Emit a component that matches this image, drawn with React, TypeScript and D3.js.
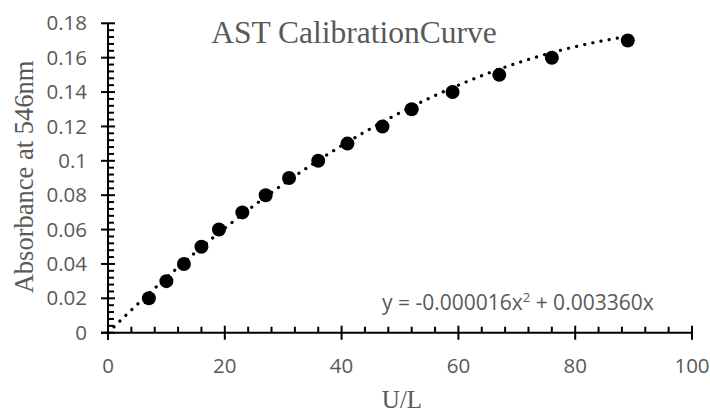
import { useEffect, useRef } from "react";
import * as d3 from "d3";

const ulValues = [7, 10, 13, 16, 19, 23, 27, 31, 36, 41, 47, 52, 59, 67, 76, 89];
const absorbance = [0.02, 0.03, 0.04, 0.05, 0.06, 0.07, 0.08, 0.09, 0.1, 0.11, 0.12, 0.13, 0.14, 0.15, 0.16, 0.17];
// y = a x^2 + b x, as printed on the chart
const trendA = -0.000016;
const trendB = 0.00336;
const yTicks = [0, 0.02, 0.04, 0.06, 0.08, 0.1, 0.12, 0.14, 0.16, 0.18];
const xTicks = [0, 20, 40, 60, 80, 100];

const WIDTH = 710;
const HEIGHT = 412;
const GREY = "#595959";
const SANS = "'Open Sans', 'Liberation Sans', sans-serif";
const SERIF = "'Liberation Serif', 'DejaVu Serif', serif";

export default function App() {
  const svgRef = useRef<SVGSVGElement>(null);

  useEffect(() => {
    const svgElement = svgRef.current;
    if (!svgElement) return;
    const svg = d3.select(svgElement);
    svg.selectAll("*").remove();

    const x = d3.scaleLinear().domain([0, 100]).range([108, 692]);
    const y = d3.scaleLinear().domain([0, 0.18]).range([332.7, 23.3]);
    const x0 = x(0);
    const y0 = y(0);

    const axes = svg.append("g").attr("stroke", "#000").attr("stroke-width", 2);

    // minor ticks
    d3.range(0, 0.1801, 0.004)
      .filter((v) => !yTicks.some((t) => Math.abs(t - v) < 1e-6))
      .forEach((v) => {
        axes.append("line").attr("x1", x0).attr("x2", x0 + 6).attr("y1", y(v)).attr("y2", y(v));
      });
    d3.range(0, 100.01, 4)
      .filter((v) => !xTicks.some((t) => Math.abs(t - v) < 1e-6))
      .forEach((v) => {
        axes.append("line").attr("x1", x(v)).attr("x2", x(v)).attr("y1", y0 - 6).attr("y2", y0);
      });

    // major ticks
    yTicks.forEach((v) => {
      axes.append("line").attr("x1", x0 - 7).attr("x2", x0 + 7).attr("y1", y(v)).attr("y2", y(v));
    });
    xTicks.forEach((v) => {
      axes.append("line").attr("x1", x(v)).attr("x2", x(v)).attr("y1", y0 - 7).attr("y2", y0 + 7);
    });

    // axis lines
    axes.append("line").attr("x1", x0).attr("x2", x0).attr("y1", y(0.18)).attr("y2", y0 + 7);
    axes.append("line").attr("x1", x0 - 7).attr("x2", x(100)).attr("y1", y0).attr("y2", y0);

    // tick labels
    svg
      .append("g")
      .selectAll("text")
      .data(yTicks)
      .join("text")
      .attr("x", 87)
      .attr("y", (d) => y(d))
      .attr("dy", "0.35em")
      .attr("text-anchor", "end")
      .attr("font-family", SANS)
      .attr("font-size", 20.5)
      .attr("fill", GREY)
      .text((d) => String(d));

    svg
      .append("g")
      .selectAll("text")
      .data(xTicks)
      .join("text")
      .attr("x", (d) => x(d))
      .attr("y", 373)
      .attr("text-anchor", "middle")
      .attr("font-family", SANS)
      .attr("font-size", 20.5)
      .attr("fill", GREY)
      .text((d) => String(d));

    // trendline
    const trendX = d3.range(0, ulValues[ulValues.length - 1] + 0.01, 0.5);
    const line = d3
      .line<number>()
      .x((d) => x(d))
      .y((d) => y(trendA * d * d + trendB * d));
    svg
      .append("path")
      .datum(trendX)
      .attr("d", line)
      .attr("fill", "none")
      .attr("stroke", "#000")
      .attr("stroke-width", 3.2)
      .attr("stroke-linecap", "round")
      .attr("stroke-dasharray", "0.1 8.2");

    // points
    svg
      .append("g")
      .selectAll("circle")
      .data(ulValues)
      .join("circle")
      .attr("cx", (d) => x(d))
      .attr("cy", (_, i) => y(absorbance[i]))
      .attr("r", 7)
      .attr("fill", "#000");

    // title
    svg
      .append("text")
      .attr("x", 354)
      .attr("y", 42.7)
      .attr("text-anchor", "middle")
      .attr("font-family", SERIF)
      .attr("font-size", 31.5)
      .attr("fill", GREY)
      .text("AST CalibrationCurve");

    // axis titles
    svg
      .append("text")
      .attr("x", 402)
      .attr("y", 408)
      .attr("text-anchor", "middle")
      .attr("font-family", SERIF)
      .attr("font-size", 25)
      .attr("fill", GREY)
      .text("U/L");

    svg
      .append("text")
      .attr("transform", "translate(33,177) rotate(-90)")
      .attr("text-anchor", "middle")
      .attr("font-family", SERIF)
      .attr("font-size", 26.5)
      .attr("fill", GREY)
      .text("Absorbance at 546nm");

    // equation
    const eq = svg
      .append("text")
      .attr("x", 382)
      .attr("y", 310)
      .attr("font-family", SANS)
      .attr("font-size", 21)
      .attr("fill", GREY);
    eq.append("tspan").text(`y = ${trendA.toFixed(6)}x`);
    eq.append("tspan").attr("dy", -8).attr("font-size", 13).text("2");
    eq.append("tspan").attr("dy", 8).text(` + ${trendB.toFixed(6)}x`);
  }, []);

  return (
    <svg
      ref={svgRef}
      width={WIDTH}
      height={HEIGHT}
      style={{ position: "absolute", left: 0, top: 0, background: "#fff" }}
    />
  );
}
